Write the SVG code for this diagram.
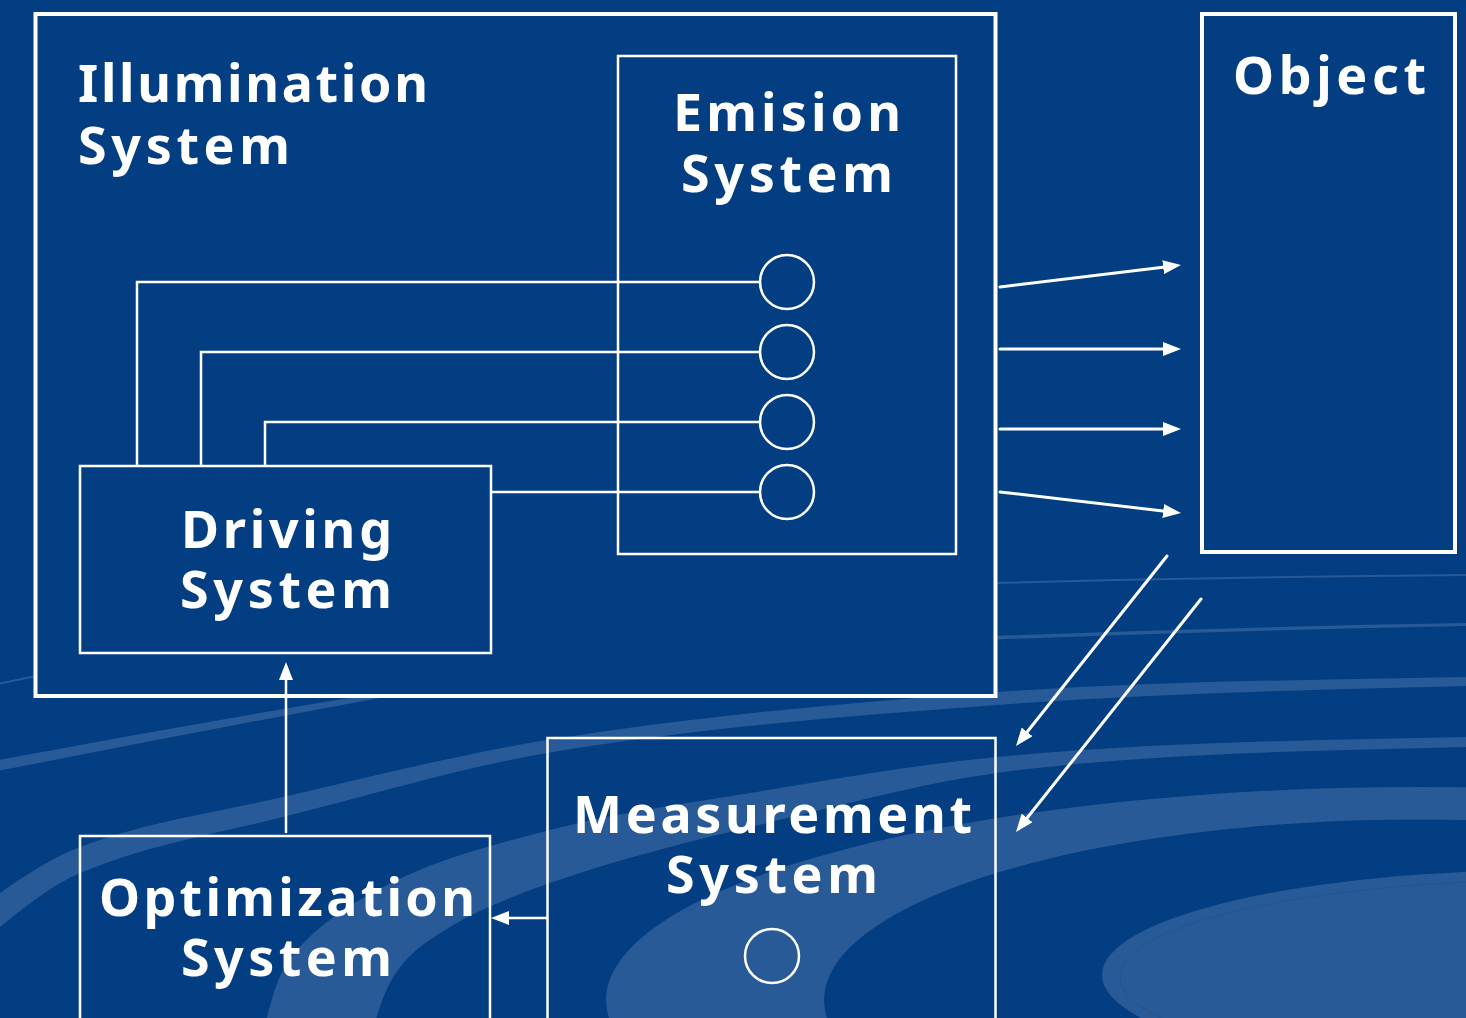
<svg xmlns="http://www.w3.org/2000/svg" width="1466" height="1018" viewBox="0 0 1466 1018">
<defs>
<style>
.bg{fill:#033e82}
.band{fill:#285a97}
.thin{fill:none;stroke:#285a97;stroke-width:2}
.box{fill:none;stroke:#ffffff;stroke-width:2.5}
.boxb{fill:#033e82;stroke:#ffffff;stroke-width:4}
.boxo{fill:none;stroke:#ffffff;stroke-width:4}
.wire{fill:none;stroke:#ffffff;stroke-width:2.5}
.arr{fill:none;stroke:#ffffff;stroke-width:3;stroke-linecap:round;marker-end:url(#ah)}
.arr2{fill:none;stroke:#ffffff;stroke-width:2.5;marker-end:url(#ah)}
.circ{fill:none;stroke:#ffffff;stroke-width:2.5}
.lbl{font-family:"Noto Sans","DejaVu Sans",sans-serif;font-weight:700;font-size:52px;fill:#ffffff}
</style>
<marker id="ah" markerUnits="userSpaceOnUse" markerWidth="18" markerHeight="14" refX="4" refY="7" orient="auto">
<path d="M0,0 L18,7 L0,14 Z" fill="#ffffff"/>
</marker>
</defs>

<g id="background">
<rect class="bg" x="0" y="0" width="1466" height="1018"/>
<path class="thin" d="M -2,684 L 60,671"/>
<path class="thin" d="M 994,583 Q 1230,577 1470,575"/>
<path class="band" d="M -2,760 Q 190,724 385,692 L 385,697 Q 190,733 -2,771 Z"/>
<path class="band" d="M 994,636 Q 1230,627 1470,623 L 1470,626 Q 1230,630.5 994,639.5 Z"/>
<path class="band" d="M 0,893 C 26.7,874.3 53.3,857.1 80,847 C 147.7,821.3 215.3,812.6 283,797 C 371,776.8 459,754.1 547,740 C 697,716 847,702.5 997,692 C 1153.3,681.1 1309.7,680.1 1466,677 L 1470,677 L 1470,686 L 1466,686 C 1309.7,689.9 1153.3,693.3 997,705 C 847,716.3 697,727.5 547,753 C 459,768 371,795 283,817 C 215.3,833.9 147.7,844.6 80,873 C 53.3,884.2 26.7,905.6 0,927 Z"/>
<path class="band" d="M 265,1025 C 271,1002.8 276.3,977.5 290,959 C 313.3,927.5 348.4,905.4 383,887 C 434.9,859.4 493.1,844.8 550,830 C 615.4,813 683.3,804 750,793 C 832.2,779.4 914.1,764.8 997,757 C 1152.8,742.3 1309.5,740.1 1466,737 L 1470,737 L 1470,747 L 1466,747 C 1309.4,751.1 1152.2,752.3 997,773 C 930.5,781.9 865.2,799.2 800,815 C 716.1,835.3 631.4,854.2 550,883 C 515.7,895.2 481.1,908.1 450,927 C 431.8,938 412.9,950.1 400,967 C 386.2,985.1 378.9,1008 373,1030 Z"/>
<path class="band" fill-rule="evenodd" d="M 606,1000 A 814,213 0 1,1 2234,1000 A 814,213 0 1,1 606,1000 Z M 824,1000 A 596,180.5 0 1,0 2016,1000 A 596,180.5 0 1,0 824,1000 Z"/>
<ellipse class="band" cx="1550" cy="975" rx="448" ry="105"/>
<ellipse cx="1556" cy="977" rx="436" ry="97" fill="none" stroke="#22548f" stroke-width="1"/>
</g>

<g id="illumination-system">
<rect class="boxb" x="35.5" y="14" width="960" height="682"/>
<text class="lbl"><tspan x="78" y="102" textLength="350" lengthAdjust="spacing">Illumination</tspan><tspan x="78" y="164" textLength="212" lengthAdjust="spacing">System</tspan></text>
</g>

<g id="emission-system">
<rect class="box" x="618" y="56" width="338" height="498"/>
<text class="lbl"><tspan x="673" y="131" textLength="228" lengthAdjust="spacing">Emision</tspan><tspan x="681" y="192" textLength="212" lengthAdjust="spacing">System</tspan></text>
<circle class="circ" cx="787" cy="282" r="27"/>
<circle class="circ" cx="787" cy="352" r="27"/>
<circle class="circ" cx="787" cy="422" r="27"/>
<circle class="circ" cx="787" cy="492" r="27"/>
</g>

<g id="driving-system">
<rect class="box" x="80" y="466" width="411" height="187"/>
<text class="lbl"><tspan x="181" y="548" textLength="211" lengthAdjust="spacing">Driving</tspan><tspan x="180" y="608" textLength="212" lengthAdjust="spacing">System</tspan></text>
</g>

<g id="object">
<rect class="boxo" x="1202" y="14" width="253" height="538"/>
<text class="lbl" x="1233" y="94" textLength="193" lengthAdjust="spacing">Object</text>
</g>

<g id="measurement-system">
<rect class="box" x="547.5" y="738" width="448" height="300"/>
<text class="lbl"><tspan x="573" y="833" textLength="399" lengthAdjust="spacing">Measurement</tspan><tspan x="666" y="893" textLength="212" lengthAdjust="spacing">System</tspan></text>
<circle class="circ" cx="772" cy="956" r="27"/>
</g>

<g id="optimization-system">
<rect class="box" x="80" y="836" width="410" height="300"/>
<text class="lbl"><tspan x="99" y="916" textLength="376" lengthAdjust="spacing">Optimization</tspan><tspan x="181" y="976" textLength="211" lengthAdjust="spacing">System</tspan></text>
</g>

<g id="connectors">
<path class="wire" d="M 760,282 H 137 V 466"/>
<path class="wire" d="M 760,352 H 201 V 466"/>
<path class="wire" d="M 760,422 H 265 V 466"/>
<path class="wire" d="M 491,492 H 760"/>
<line class="arr" x1="1000" y1="287" x2="1167.1" y2="266.7"/>
<line class="arr" x1="1000" y1="349" x2="1167" y2="349"/>
<line class="arr" x1="1000" y1="429" x2="1167" y2="429"/>
<line class="arr" x1="1000" y1="492" x2="1167.1" y2="511.4"/>
<line class="arr" x1="1167" y1="556" x2="1024.7" y2="735"/>
<line class="arr" x1="1201" y1="599" x2="1024.7" y2="821"/>
<line class="arr2" x1="286" y1="833" x2="286" y2="676"/>
<line class="arr2" x1="547" y1="918" x2="505" y2="918"/>
</g>
</svg>
